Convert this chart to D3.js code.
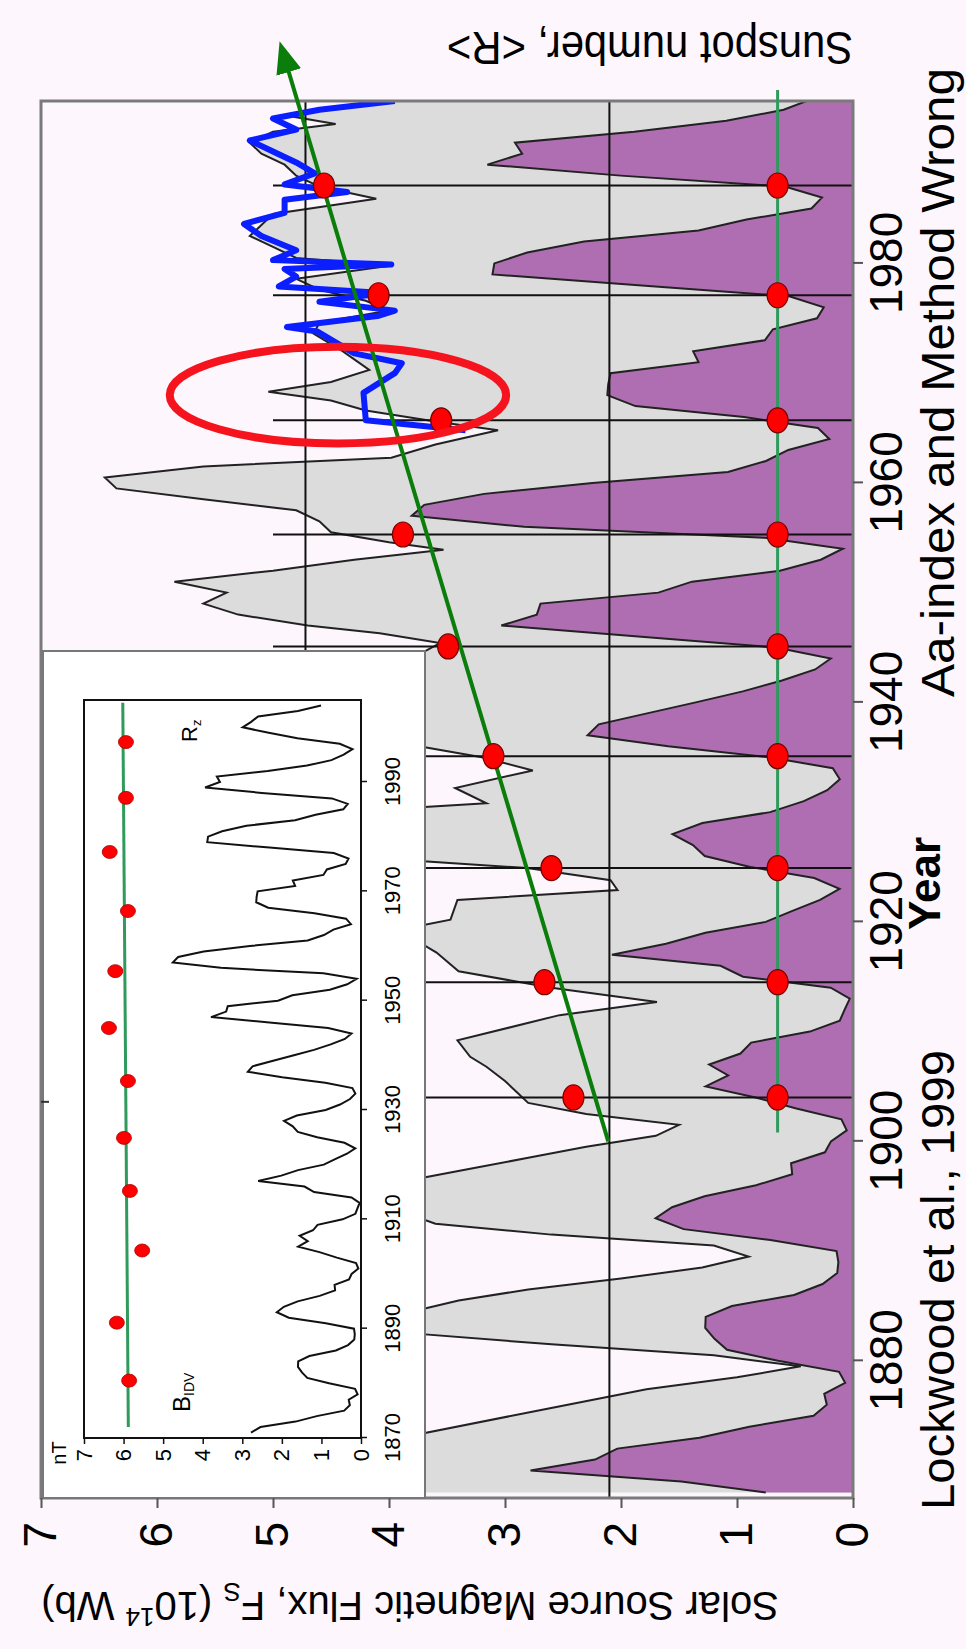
<!DOCTYPE html>
<html>
<head>
<meta charset="utf-8">
<script src="https://cdn.jsdelivr.net/npm/d3@7/dist/d3.min.js"></script>
<style>
  body { margin: 0; background: #fdf7fd; }
  svg { display: block; }
  text { font-family: "Liberation Sans", Arial, sans-serif; fill: #000; }
</style>
</head>
<body>
<svg id="chart" width="966" height="1649"></svg>
<script>
// ---------- data ----------

// yearly sunspot number, 1868 .. 2004
var spotStart = 1868;
var sunspot = [37.6, 74.0, 139.0, 111.2, 101.6, 66.2, 44.7, 17.0, 11.3, 12.4,
  3.4, 6.0, 32.3, 54.3, 59.7, 63.7, 63.5, 52.2, 25.4, 13.1,
  6.8, 6.3, 7.1, 35.6, 73.0, 85.1, 78.0, 64.0, 41.8, 26.2,
  26.7, 12.1, 9.5, 2.7, 5.0, 24.4, 42.0, 63.5, 53.8, 62.0,
  48.5, 43.9, 18.6, 5.7, 3.6, 1.4, 9.6, 47.4, 57.1, 103.9,
  80.6, 63.6, 37.6, 26.1, 14.2, 5.8, 16.7, 44.3, 63.9, 69.0,
  77.8, 64.9, 35.7, 21.2, 11.1, 5.7, 8.7, 36.1, 79.7, 114.4,
  109.6, 88.8, 67.8, 47.5, 30.6, 16.3, 9.6, 33.2, 92.6, 151.6,
  136.3, 134.7, 83.9, 69.4, 31.5, 13.9, 4.4, 38.0, 141.7, 190.2,
  184.8, 159.0, 112.3, 53.9, 37.5, 27.9, 10.2, 15.1, 47.0, 93.8,
  105.9, 105.5, 104.5, 66.6, 68.9, 38.0, 34.5, 15.5, 12.6, 27.5,
  92.5, 155.4, 154.6, 140.4, 115.9, 66.6, 45.9, 17.9, 13.4, 29.4,
  100.2, 157.6, 142.6, 145.7, 94.3, 54.6, 29.9, 17.5, 8.6, 21.5,
  64.3, 93.3, 119.6, 111.0, 104.0, 63.7, 40.4];

// solar source flux F_S (10^14 Wb)
var fsYears = [1868, 1870, 1872, 1873.4, 1875.5, 1877.4, 1878.5, 1879.5, 1880.5, 1881.5, 1882.5, 1884,
  1885.5, 1886.5, 1887.5, 1888.5, 1889.5, 1890.5, 1891.5, 1892.5, 1894, 1895.5, 1896.5, 1897.5,
  1898.5, 1899.5, 1900.5, 1901.5, 1902.5, 1903.5, 1904.5, 1905.5, 1906.8, 1907.7, 1909.2,
  1911.5, 1912.7, 1914, 1915.5, 1917.2, 1918.2, 1919.5, 1920.2, 1922, 1922.9, 1923.8, 1924.9,
  1925.6, 1928, 1930.4, 1930.8, 1932.2, 1933.8, 1935, 1936.3, 1938, 1940, 1942, 1943.5,
  1944.6, 1945.4, 1946.3, 1947, 1948, 1949, 1950, 1951, 1952, 1953, 1953.9, 1954.6, 1955.5,
  1956.5, 1957.5, 1958.5, 1959.5, 1960.5, 1961.5, 1962.3, 1963.5, 1964.8, 1965.6, 1966.6,
  1967.5, 1968.3, 1969.2, 1970.3, 1972, 1973.6, 1974.6, 1975.7, 1976.6, 1977.6, 1978.6,
  1979.8, 1980.5, 1981.5, 1982.5, 1983.5, 1984.5, 1985.9, 1987, 1988, 1989, 1990, 1991,
  1992, 1992.7, 1993.5, 1994.2, 1995];
var fsFlux = [4.0, 3.9, 3.85, 3.7, 2.7, 1.78, 1.0, 0.45, 1.2, 2.6, 3.8, 4.0,
  3.4, 2.8, 2.0, 1.3, 0.9, 1.2, 2.6, 3.6, 4.0, 4.0, 3.8, 3.3,
  2.8, 2.3, 1.7, 1.5, 2.3, 2.8, 2.9, 3.0, 3.16, 3.3, 3.41,
  2.53, 1.69, 2.6, 3.4, 3.59, 3.75, 3.8, 3.47, 3.41, 2.03, 2.09, 2.81,
  3.8, 4.0, 3.8, 3.16, 3.43, 2.76, 3.2, 3.9, 4.3, 4.5, 4.4, 4.1,
  3.7, 3.56, 4.08, 4.7, 5.3, 5.6, 5.4, 5.85, 5.0, 4.3, 3.53, 4.0, 4.5,
  4.6, 4.8, 5.6, 6.35, 6.45, 5.6, 3.98, 3.6, 3.06, 3.6, 4.2,
  4.5, 5.04, 4.5, 4.17, 4.4, 4.65, 4.6, 4.0, 4.2, 4.6, 4.8,
  3.98, 4.8, 5.0, 5.2, 5.1, 5.0, 4.11, 4.6, 4.8, 4.9, 5.1, 5.2,
  5.0, 4.46, 4.9, 4.5, 3.9];

// F_S reconstructed from the aa-index (blue curve)
var aaYears = [1964.8, 1965.7, 1968.2, 1970.0, 1970.9, 1971.8, 1973.8, 1974.2, 1975.2, 1975.7,
  1976.5, 1977.3, 1977.9, 1978.8, 1979.5, 1979.9, 1980.3, 1981.2, 1982.5, 1983.6, 1984.6,
  1985.8, 1986.5, 1987.2, 1988.2, 1989.2, 1990.2, 1991.2, 1992.2, 1993.2, 1994, 1994.8];
var aaFlux = [3.34, 4.2, 4.22, 3.95, 3.89, 4.3, 4.62, 4.88, 4.1, 3.95,
  4.6, 4.05, 4.95, 4.8, 4.9, 3.98, 5.0, 4.8, 5.1, 5.25, 4.9,
  4.9, 4.36, 4.9, 4.64, 4.8, 5.0, 5.2, 4.8, 5.0, 4.6, 3.95];

// cycle boundaries and the cycle values (red dots)
var cycleYears = [1904.0, 1914.5, 1924.9, 1935.1, 1945.1, 1955.3, 1965.7, 1977.1, 1987.1];
var cycleFlux = [2.41, 2.66, 2.60, 3.10, 3.49, 3.88, 3.55, 4.09, 4.56];
var baseFlux = 0.65;               // flat row of dots
var trendStart = [1900.0, 2.11];   // green arrow
var trendEnd = [1998.0, 4.88];
var baseStart = 1900.8, baseEnd = 1995.8;
var refLevels = [2.1, 4.72];       // horizontal reference lines
var lineReach = 5.0;               // cycle lines stop at this flux
var circled = { year: 1968.0, flux: 4.44, dy: 4.4, df: 1.45 };

// inset: B_IDV dots
var idvYears = [1880.5, 1891.1, 1904.3, 1915.2, 1924.9, 1935.3, 1945.0, 1955.4, 1966.4, 1977.2, 1987.1, 1997.3];
var idvNT = [5.86, 6.17, 5.53, 5.84, 5.99, 5.89, 6.37, 6.21, 5.89, 6.35, 5.94, 5.94];
var idvFit = [[1872, 5.88], [2004.5, 6.02]];

var yearTicks = [1880, 1900, 1920, 1940, 1960, 1980];
var fluxTicks = [0, 1, 2, 3, 4, 5, 6, 7];
var insetYearTicks = [1870, 1890, 1910, 1930, 1950, 1970, 1990];
var insetNTTicks = [0, 1, 2, 3, 4, 5, 6, 7];

// ---------- drawing ----------
// the figure is drawn upright and then turned a quarter turn counter-clockwise
var svg = d3.select("#chart");
svg.append("rect").attr("width", 966).attr("height", 1649).attr("fill", "#fdf7fd");

var g = svg.append("g").attr("transform", "translate(0,1649) rotate(-90)");

var x = d3.scaleLinear().domain([1867.5, 1994.8]).range([151, 1548]);
var y = d3.scaleLinear().domain([0, 7]).range([853, 41]);
var yR = d3.scaleLinear().domain([0, 350]).range([853, 41]);

var spotData = sunspot.map(function(v, i){ return [spotStart + i, v]; });
var fsData = fsYears.map(function(v, i){ return [v, fsFlux[i]]; });
var aaData = aaYears.map(function(v, i){ return [v, aaFlux[i]]; });

g.append("clipPath").attr("id", "plotClip")
  .append("rect")
    .attr("x", x(1867.5)).attr("y", y(7))
    .attr("width", x(1994.8) - x(1867.5)).attr("height", y(0) - y(7));

var plot = g.append("g").attr("clip-path", "url(#plotClip)");

// grey F_S area
plot.append("path")
  .datum(fsData)
  .attr("fill", "#dddcdd")
  .attr("d", d3.area().x(function(d){ return x(d[0]); }).y0(y(0)).y1(function(d){ return y(d[1]); }));

// purple sunspot area
var spotMain = spotData.filter(function(d){ return d[0] <= 1996; });
plot.append("path")
  .datum(spotMain)
  .attr("fill", "#b06eb2")
  .attr("d", d3.area().x(function(d){ return x(d[0]); }).y0(yR(0)).y1(function(d){ return yR(d[1]); }));

plot.append("path")
  .datum(spotMain)
  .attr("fill", "none").attr("stroke", "#222").attr("stroke-width", 2)
  .attr("d", d3.line().x(function(d){ return x(d[0]); }).y(function(d){ return yR(d[1]); }));

plot.append("path")
  .datum(fsData)
  .attr("fill", "none").attr("stroke", "#222").attr("stroke-width", 2)
  .attr("d", d3.line().x(function(d){ return x(d[0]); }).y(function(d){ return y(d[1]); }));

// reference levels
plot.selectAll("line.ref")
  .data(refLevels)
  .enter().append("line")
    .attr("class", "ref")
    .attr("x1", x(1867.5)).attr("x2", x(1994.8))
    .attr("y1", function(d){ return y(d); }).attr("y2", function(d){ return y(d); })
    .attr("stroke", "#111").attr("stroke-width", 2);

// cycle boundaries
plot.selectAll("line.cyc")
  .data(cycleYears)
  .enter().append("line")
    .attr("class", "cyc")
    .attr("x1", function(d){ return x(d); }).attr("x2", function(d){ return x(d); })
    .attr("y1", y(0)).attr("y2", y(lineReach))
    .attr("stroke", "#111").attr("stroke-width", 2);

// blue aa curve
plot.append("path")
  .datum(aaData)
  .attr("fill", "none").attr("stroke", "#0a1eff").attr("stroke-width", 6)
  .attr("stroke-linejoin", "round")
  .attr("d", d3.line().x(function(d){ return x(d[0]); }).y(function(d){ return y(d[1]); }));

// plot frame
g.append("rect")
  .attr("x", x(1867.5)).attr("y", y(7))
  .attr("width", x(1994.8) - x(1867.5)).attr("height", y(0) - y(7))
  .attr("fill", "none").attr("stroke", "#7a7a7a").attr("stroke-width", 3);

// ---------- inset ----------
var ix = d3.scaleLinear().domain([1870, 2005]).range([211, 949]);
var iy = d3.scaleLinear().domain([0, 7]).range([361, 84]);

g.append("rect")
  .attr("x", x(1867.5)).attr("y", 43)
  .attr("width", 998 - x(1867.5)).attr("height", 425 - 43)
  .attr("fill", "#fff").attr("stroke", "#777").attr("stroke-width", 2);

g.append("rect")
  .attr("x", ix(1870)).attr("y", iy(7))
  .attr("width", ix(2005) - ix(1870)).attr("height", iy(0) - iy(7))
  .attr("fill", "#fff").attr("stroke", "#111").attr("stroke-width", 2);

g.append("path")
  .datum(spotData.filter(function(d){ return d[0] >= 1871; }))
  .attr("fill", "none").attr("stroke", "#111").attr("stroke-width", 2)
  .attr("d", d3.line().x(function(d){ return ix(d[0]); }).y(function(d){ return iy(d[1] / 40); }));

g.append("line")
  .attr("x1", ix(idvFit[0][0])).attr("y1", iy(idvFit[0][1]))
  .attr("x2", ix(idvFit[1][0])).attr("y2", iy(idvFit[1][1]))
  .attr("stroke", "#2f9a5c").attr("stroke-width", 3);

g.selectAll("ellipse.idv")
  .data(idvYears)
  .enter().append("ellipse")
    .attr("class", "idv")
    .attr("cx", function(d){ return ix(d); })
    .attr("cy", function(d, i){ return iy(idvNT[i]); })
    .attr("rx", 6.5).attr("ry", 7.5)
    .attr("fill", "#f00").attr("stroke", "#a00").attr("stroke-width", 0.8);

var iax = g.append("g")
  .attr("transform", "translate(0," + iy(0) + ")")
  .call(d3.axisBottom(ix).tickValues(insetYearTicks).tickFormat(d3.format("d")).tickSize(6).tickPadding(17));
var iay = g.append("g")
  .attr("transform", "translate(" + ix(1870) + ",0)")
  .call(d3.axisLeft(iy).tickValues(insetNTTicks).tickFormat(d3.format("d")).tickSize(6).tickPadding(5));
[iax, iay].forEach(function(a){
  a.select(".domain").remove();
  a.selectAll(".tick line").attr("stroke", "#111").attr("stroke-width", 1.5);
  a.selectAll(".tick text").attr("font-size", 22).attr("fill", "#222");
});

g.append("text").attr("x", 196).attr("y", 66).attr("text-anchor", "middle")
  .attr("font-size", 20).text("nT");

var bLab = g.append("text").attr("x", 237).attr("y", 190).attr("font-size", 24);
bLab.append("tspan").text("B");
bLab.append("tspan").attr("font-size", 14).attr("dy", 4).text("IDV");

var rLab = g.append("text").attr("x", 907).attr("y", 197).attr("font-size", 22);
rLab.append("tspan").text("R");
rLab.append("tspan").attr("font-size", 13).attr("dy", 4).text("z");

// ---------- overlays on main plot ----------
var over = g.append("g");

// flat green line + dots
over.append("line")
  .attr("x1", x(baseStart)).attr("x2", x(baseEnd))
  .attr("y1", y(baseFlux)).attr("y2", y(baseFlux))
  .attr("stroke", "#2f9a5c").attr("stroke-width", 3);

// trend arrow
g.append("defs").append("marker")
  .attr("id", "arrow").attr("viewBox", "0 0 10 10")
  .attr("refX", 2).attr("refY", 5)
  .attr("markerWidth", 8).attr("markerHeight", 8)
  .attr("orient", "auto")
  .append("path").attr("d", "M0,1 L10,5 L0,9 Z").attr("fill", "#0b7d0b");

over.append("line")
  .attr("x1", x(trendStart[0])).attr("y1", y(trendStart[1]))
  .attr("x2", x(trendEnd[0])).attr("y2", y(trendEnd[1]))
  .attr("stroke", "#0b7d0b").attr("stroke-width", 4)
  .attr("marker-end", "url(#arrow)");

over.selectAll("ellipse.top")
  .data(cycleYears)
  .enter().append("ellipse")
    .attr("class", "top")
    .attr("cx", function(d){ return x(d); })
    .attr("cy", function(d, i){ return y(cycleFlux[i]); })
    .attr("rx", 12.5).attr("ry", 10.5)
    .attr("fill", "#f00").attr("stroke", "#700").attr("stroke-width", 1.2);

over.selectAll("ellipse.base")
  .data(cycleYears)
  .enter().append("ellipse")
    .attr("class", "base")
    .attr("cx", function(d){ return x(d); })
    .attr("cy", y(baseFlux))
    .attr("rx", 12.5).attr("ry", 10.5)
    .attr("fill", "#f00").attr("stroke", "#700").attr("stroke-width", 1.2);

// red ellipse
over.append("ellipse")
  .attr("cx", x(circled.year)).attr("cy", y(circled.flux))
  .attr("rx", x(circled.year + circled.dy) - x(circled.year))
  .attr("ry", y(0) - y(circled.df))
  .attr("fill", "none").attr("stroke", "#f5141e").attr("stroke-width", 8);

// small tick on the top frame
g.append("line")
  .attr("x1", x(1903.6)).attr("x2", x(1903.6))
  .attr("y1", y(7)).attr("y2", y(7) + 8)
  .attr("stroke", "#333").attr("stroke-width", 2);

// ---------- axes ----------
var ax = g.append("g")
  .attr("transform", "translate(0," + y(0) + ")")
  .call(d3.axisBottom(x).tickValues(yearTicks).tickFormat(d3.format("d")).tickSize(10).tickPadding(6));
var ay = g.append("g")
  .attr("transform", "translate(" + x(1867.5) + ",0)")
  .call(d3.axisLeft(y).tickValues(fluxTicks).tickFormat(d3.format("d")).tickSize(10).tickPadding(14));
[ax, ay].forEach(function(a){
  a.select(".domain").remove();
  a.selectAll(".tick line").attr("stroke", "#555").attr("stroke-width", 2);
  a.selectAll(".tick text").attr("font-size", 46).attr("fill", "#111");
});

g.append("text")
  .attr("x", x(1923.5)).attr("y", 940)
  .attr("text-anchor", "middle").attr("font-size", 44).attr("font-weight", "bold")
  .text("Year");

g.append("text")
  .attr("x", 139).attr("y", 954).attr("font-size", 46)
  .attr("textLength", 460).attr("lengthAdjust", "spacingAndGlyphs")
  .text("Lockwood et al., 1999");

g.append("text")
  .attr("x", 952).attr("y", 954).attr("font-size", 46)
  .attr("textLength", 629).attr("lengthAdjust", "spacingAndGlyphs")
  .text("Aa-index and Method Wrong");

// left (flux) axis title, reads upward in the upright figure
var ft = g.append("text")
  .attr("transform", "translate(57,410) rotate(-90)")
  .attr("text-anchor", "middle").attr("font-size", 40);
ft.append("tspan").text("Solar Source Magnetic Flux, F");
ft.append("tspan").attr("font-size", 26).attr("dy", 9).text("S");
ft.append("tspan").attr("dy", -9).text(" (10");
ft.append("tspan").attr("font-size", 26).attr("dy", -16).text("14");
ft.append("tspan").attr("dy", 16).text(" Wb)");

// right axis title
g.append("text")
  .attr("transform", "translate(1617,650) rotate(-90)")
  .attr("text-anchor", "middle").attr("font-size", 46)
  .attr("textLength", 406).attr("lengthAdjust", "spacingAndGlyphs")
  .text("Sunspot number, <R>");
</script>
</body>
</html>
